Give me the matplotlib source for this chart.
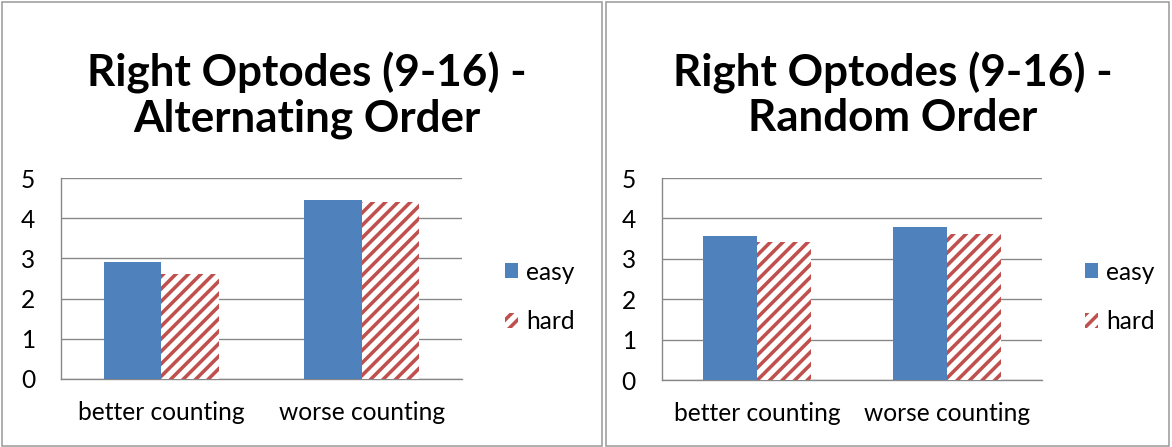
import matplotlib
matplotlib.use("Agg")
import matplotlib.pyplot as plt
from matplotlib.patches import Rectangle
import numpy as np

# data
categories = ["better counting", "worse counting"]
series_names = ["easy", "hard"]
alt_easy = [2.92, 4.45]
alt_hard = [2.62, 4.40]
rand_easy = [3.57, 3.78]
rand_hard = [3.42, 3.61]
y_ticks = [0, 1, 2, 3, 4, 5]

titles = ["Right Optodes (9-16) -\nAlternating Order",
          "Right Optodes (9-16) -\nRandom Order"]

DPI = 75
W, H = 1172, 447
plt.rcParams['font.family'] = ['Lato', 'DejaVu Sans']
plt.rcParams['hatch.linewidth'] = 3.4

blue = '#4F81BD'
red = '#C0504D'
grid_gray = '#878787'


def px(v):
    # pixel -> points at this dpi
    return v * 72.0 / DPI


fig = plt.figure(figsize=(W / DPI, H / DPI), dpi=DPI)

# panel frames
for x0, x1 in [(2, 602), (606, 1169)]:
    fig.patches.append(Rectangle((x0 / W, 1 / H), (x1 - x0) / W, (H - 3) / H,
                                 transform=fig.transFigure, fill=False,
                                 edgecolor='#9a9a9a', linewidth=1.5))

panels = [
    # axes box in pixels (left, right, top, bottom), title centre x, legend x
    dict(box=(61, 462, 178, 379), tx=307, lx=505, easy=alt_easy, hard=alt_hard, title=titles[0]),
    dict(box=(662, 1042, 178, 380), tx=893, lx=1085, easy=rand_easy, hard=rand_hard, title=titles[1]),
]

for p in panels:
    l, r, t, b = p['box']
    ax = fig.add_axes([l / W, (H - b) / H, (r - l) / W, (b - t) / H])
    x = np.arange(len(categories))
    w = 1 / 3.5
    ax.bar(x - w / 2, p['easy'], w, color=blue, label=series_names[0], zorder=3)
    ax.bar(x + w / 2, p['hard'], w, color='white', edgecolor=red, hatch='//',
           linewidth=0, label=series_names[1], zorder=3)
    ax.set_xlim(-0.5, len(categories) - 0.5)
    ax.set_ylim(0, 5)
    ax.set_yticks(y_ticks)
    ax.set_xticks(x)
    ax.set_xticklabels(categories)
    ax.tick_params(axis='both', length=0, labelsize=px(24.5), colors='black')
    ax.tick_params(axis='y', pad=px(26))
    ax.tick_params(axis='x', pad=px(22))
    ax.yaxis.grid(True, color=grid_gray, linewidth=1.3, zorder=0)
    for s in ['top', 'right']:
        ax.spines[s].set_visible(False)
    for s in ['left', 'bottom']:
        ax.spines[s].set_color(grid_gray)
        ax.spines[s].set_linewidth(1.3)

    fig.text(p['tx'] / W, (H - 95) / H, p['title'], ha='center', va='center',
             fontsize=px(44), fontweight='bold', linespacing=1.14)

    fig.legend(handles=ax.patches[:1] + ax.patches[len(categories):len(categories) + 1],
               labels=series_names, loc='center left',
               bbox_to_anchor=(p['lx'] / W, (H - 297) / H), frameon=False,
               borderpad=0, borderaxespad=0, fontsize=px(24.5),
               handlelength=0.55, handleheight=0.55, handletextpad=0.3,
               labelspacing=1.1)

fig.savefig("out.png", dpi=DPI)
